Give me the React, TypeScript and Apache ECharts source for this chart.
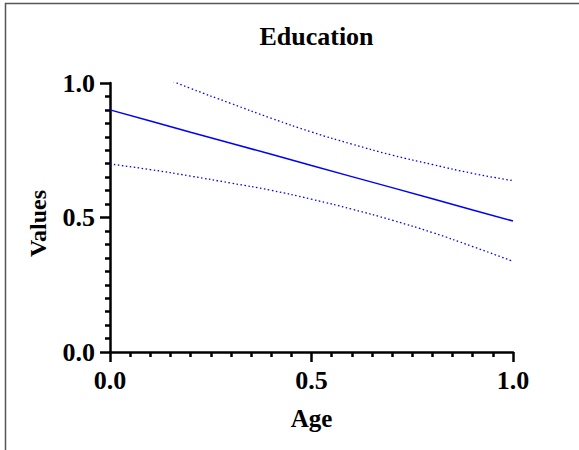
import React, { useEffect, useRef } from "react";
import * as echarts from "echarts";

const ageValues = [0, 0.1, 0.2, 0.3, 0.4, 0.5, 0.6, 0.7, 0.8, 0.9, 1.0];
const fitValues = [0.9, 0.859, 0.817, 0.776, 0.735, 0.693, 0.652, 0.611, 0.57, 0.528, 0.487];
const upperValues = [1.101, 1.04, 0.98, 0.924, 0.869, 0.818, 0.773, 0.732, 0.697, 0.664, 0.637];
const lowerValues = [0.699, 0.678, 0.654, 0.628, 0.601, 0.568, 0.531, 0.49, 0.444, 0.392, 0.337];
const tickLabels = ["0.0", "0.5", "1.0"];

const FONT = "'Liberation Serif', 'Times New Roman', serif";

export default function App() {
  const ref = useRef<HTMLDivElement>(null);
  useEffect(() => {
    if (!ref.current) return;
    const chart = echarts.init(ref.current, null, { renderer: "svg" });
    const pair = (ys: number[]) => ageValues.map((x, i) => [x, ys[i]]);
    const fmt = (v: number) => {
      const i = Math.round(v * 2);
      return tickLabels[i] ?? "";
    };
    const axisCommon = {
      type: "value",
      min: 0,
      max: 1,
      interval: 0.5,
      axisLine: { show: true, lineStyle: { color: "#000", width: 2.5 } },
      axisTick: { show: true, length: 10, lineStyle: { color: "#000", width: 2.5 } },
      minorTick: { show: true, splitNumber: 10, length: 5, lineStyle: { color: "#000", width: 2.5 } },
      splitLine: { show: false },
      minorSplitLine: { show: false },
      axisLabel: {
        color: "#000",
        fontFamily: FONT,
        fontWeight: "bold",
        fontSize: 26,
        formatter: fmt,
      },
      nameTextStyle: { color: "#000", fontFamily: FONT, fontWeight: "bold", fontSize: 25 },
    };
    chart.setOption({
      animation: false,
      backgroundColor: "#fff",
      title: {
        text: "Education",
        left: 311.5,
        top: 18,
        textAlign: "center",
        textStyle: { color: "#000", fontFamily: FONT, fontWeight: "bold", fontSize: 26 },
      },
      grid: { left: 110, right: 66, top: 83, bottom: 98 },
      xAxis: {
        ...axisCommon,
        name: "Age",
        nameLocation: "middle",
        nameGap: 54,
        axisLabel: { ...axisCommon.axisLabel, margin: 15 },
      },
      yAxis: {
        ...axisCommon,
        name: "Values",
        nameLocation: "middle",
        nameGap: 60,
        nameTextStyle: { ...axisCommon.nameTextStyle, fontSize: 24, padding: [0, 12, 0, 0] },
        axisLabel: { ...axisCommon.axisLabel, margin: 15 },
      },
      series: [
        {
          type: "line",
          data: pair(fitValues),
          showSymbol: false,
          clip: true,
          lineStyle: { color: "#0000ff", width: 1.5 },
        },
        {
          type: "line",
          data: pair(upperValues),
          showSymbol: false,
          smooth: true,
          clip: true,
          lineStyle: { color: "#0000ff", width: 1.3, type: [1.5, 2.5] },
        },
        {
          type: "line",
          data: pair(lowerValues),
          showSymbol: false,
          smooth: true,
          clip: true,
          lineStyle: { color: "#0000ff", width: 1.3, type: [1.5, 2.5] },
        },
      ],
      graphic: [
        {
          type: "polyline",
          shape: { points: [[5.5, 450], [5.5, 3.5], [579, 3.5]] },
          style: { stroke: "#555", lineWidth: 1.5, fill: "none" },
          silent: true,
        },
      ],
    });
    return () => chart.dispose();
  }, []);
  return <div ref={ref} style={{ width: 579, height: 450, position: "absolute", left: 0, top: 0 }} />;
}
